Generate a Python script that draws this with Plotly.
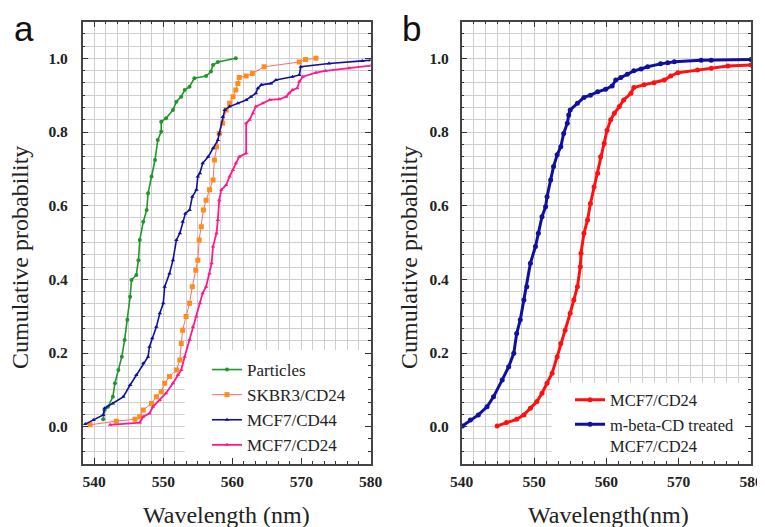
import plotly.graph_objects as go

# ---------------- data ----------------
particles_x = [541.3, 541.5, 542.0, 542.7, 543.0, 543.5, 544.0, 544.4, 544.8, 545.2, 545.4, 546.1, 546.4, 546.6,
               547.1, 547.6, 547.8, 548.3, 548.8, 549.2, 549.7, 549.7, 550.4, 551.4, 551.9, 552.6, 553.1, 553.8,
               554.5, 556.2, 556.9, 557.2, 557.9, 560.5]
particles_y = [0.020, 0.045, 0.054, 0.081, 0.118, 0.154, 0.190, 0.235, 0.290, 0.353, 0.398, 0.412, 0.452, 0.507,
               0.556, 0.588, 0.634, 0.679, 0.724, 0.778, 0.801, 0.828, 0.837, 0.860, 0.882, 0.896, 0.914, 0.923,
               0.946, 0.952, 0.964, 0.982, 0.990, 1.000]

skbr3_x = [539.4, 543.2, 545.9, 546.6, 547.1, 548.3, 549.0, 549.7, 550.2, 550.9, 551.9, 552.4, 552.6, 552.8,
           553.3, 553.8, 554.2, 554.7, 555.0, 555.2, 555.5, 555.8, 556.2, 556.7, 557.2, 557.4, 557.7, 558.1,
           558.6, 559.1, 559.6, 560.1, 560.5, 560.8, 561.0, 562.0, 562.9, 564.6, 569.7, 570.6, 572.1]
skbr3_y = [0.005, 0.015, 0.020, 0.027, 0.045, 0.063, 0.081, 0.095, 0.118, 0.136, 0.154, 0.181, 0.226, 0.262,
           0.299, 0.335, 0.380, 0.425, 0.452, 0.507, 0.543, 0.588, 0.615, 0.643, 0.670, 0.724, 0.760, 0.796,
           0.824, 0.860, 0.878, 0.896, 0.914, 0.932, 0.948, 0.952, 0.959, 0.977, 0.990, 0.997, 1.000]

cd44_x = [538.7, 539.9, 541.3, 541.5, 542.7, 544.2, 545.2, 546.1, 547.1, 547.8, 548.0, 548.4, 549.0, 549.5,
          550.0, 550.2, 550.9, 551.4, 551.9, 552.4, 552.8, 553.2, 553.8, 554.2, 554.8, 555.0, 555.3, 555.7,
          556.5, 557.2, 557.9, 558.1, 558.6, 558.9, 559.6, 560.8, 562.0, 562.7, 563.4, 563.7, 564.2, 565.6,
          566.3, 568.7, 569.7, 569.9, 574.0, 578.8, 580.0]
cd44_y = [0.007, 0.018, 0.032, 0.050, 0.063, 0.081, 0.113, 0.140, 0.172, 0.190, 0.217, 0.240, 0.271, 0.308,
          0.335, 0.380, 0.416, 0.452, 0.507, 0.525, 0.556, 0.579, 0.588, 0.624, 0.643, 0.679, 0.688, 0.715,
          0.733, 0.756, 0.778, 0.796, 0.841, 0.860, 0.869, 0.878, 0.887, 0.896, 0.905, 0.919, 0.928, 0.932,
          0.941, 0.950, 0.955, 0.977, 0.986, 0.993, 0.995]

cd24_x = [542.3, 546.6, 547.1, 548.0, 548.5, 549.5, 550.4, 551.4, 552.1, 552.6, 553.1, 553.8, 554.3, 554.8,
          555.3, 555.7, 556.2, 556.7, 557.0, 557.2, 557.7, 557.9, 558.1, 558.4, 559.1, 559.6, 560.1, 560.5,
          561.0, 562.0, 562.0, 562.5, 563.0, 563.4, 564.4, 565.4, 566.8, 567.8, 568.2, 568.7, 569.4, 569.7,
          570.2, 572.1, 573.5, 576.9, 580.0]
cd24_y = [0.005, 0.011, 0.027, 0.036, 0.054, 0.072, 0.091, 0.118, 0.140, 0.154, 0.190, 0.235, 0.271, 0.299,
          0.335, 0.362, 0.380, 0.416, 0.444, 0.489, 0.525, 0.561, 0.615, 0.643, 0.656, 0.679, 0.697, 0.715,
          0.733, 0.742, 0.824, 0.833, 0.851, 0.869, 0.878, 0.887, 0.889, 0.896, 0.905, 0.914, 0.919, 0.937,
          0.950, 0.961, 0.966, 0.973, 0.980]

b_cd24_x = [544.9, 546.2, 547.6, 548.6, 549.5, 550.4, 551.1, 551.8, 552.5, 553.2, 553.7, 554.3, 555.0, 555.5,
            556.0, 556.4, 556.5, 556.9, 557.4, 557.8, 558.3, 558.8, 559.2, 559.7, 560.1, 560.6, 561.1, 561.8,
            562.4, 563.4, 563.8, 565.2, 566.6, 568.0, 568.9, 569.9, 572.6, 574.5, 576.8, 580.0]
b_cd24_y = [0.002, 0.011, 0.020, 0.032, 0.050, 0.068, 0.091, 0.118, 0.145, 0.190, 0.226, 0.262, 0.308, 0.344,
            0.380, 0.434, 0.471, 0.525, 0.561, 0.606, 0.651, 0.688, 0.733, 0.769, 0.805, 0.833, 0.851, 0.869,
            0.887, 0.905, 0.921, 0.928, 0.934, 0.941, 0.952, 0.961, 0.968, 0.973, 0.979, 0.982]

b_mbcd_x = [540.1, 541.2, 542.3, 543.5, 544.4, 545.6, 546.5, 547.2, 547.6, 548.1, 548.6, 549.0, 549.5, 550.2,
            550.6, 551.1, 551.6, 551.8, 552.3, 552.7, 553.2, 553.7, 554.1, 554.6, 554.8, 555.0, 556.0, 556.9,
            557.8, 558.8, 559.9, 560.8, 561.3, 562.0, 562.9, 563.8, 564.8, 565.7, 567.5, 568.5, 569.4, 573.1,
            574.5, 580.0]
b_mbcd_y = [0.002, 0.018, 0.032, 0.054, 0.081, 0.127, 0.163, 0.199, 0.253, 0.290, 0.344, 0.380, 0.444, 0.489,
            0.525, 0.570, 0.597, 0.624, 0.670, 0.706, 0.738, 0.760, 0.796, 0.824, 0.846, 0.860, 0.878, 0.894,
            0.900, 0.909, 0.916, 0.925, 0.941, 0.948, 0.957, 0.966, 0.971, 0.977, 0.985, 0.988, 0.991, 0.995,
            0.995, 0.997]

x_ticks = [540, 550, 560, 570, 580]
y_ticks = [0.0, 0.2, 0.4, 0.6, 0.8, 1.0]

# ---------------- figure ----------------
W, H = 765, 527
OFF = 8  # the page body margin shifts the figure by 8 px; positions below are page pixels minus this
SERIF = "Liberation Serif"
SANS = "Liberation Sans"
GREEN, ORANGE, SALMON, NAVY, PINK, RED = "#21962a", "#ff8c1a", "#ff6b6b", "#10109c", "#ff1a8c", "#ff1010"


def px(x):
    return (x - OFF) / W


def py(y):
    return 1 - (y - OFF) / H


fig = go.Figure()

fig.add_trace(go.Scatter(x=particles_x, y=particles_y, name="Particles", mode="lines+markers",
                         line=dict(color=GREEN, width=1.6), marker=dict(color=GREEN, size=4, symbol="circle"),
                         xaxis="x", yaxis="y", legend="legend"))
fig.add_trace(go.Scatter(x=skbr3_x, y=skbr3_y, name="SKBR3/CD24", mode="lines+markers",
                         line=dict(color=SALMON, width=1), marker=dict(color=ORANGE, size=5, symbol="square"),
                         xaxis="x", yaxis="y", legend="legend"))
fig.add_trace(go.Scatter(x=cd44_x, y=cd44_y, name="MCF7/CD44", mode="lines+markers",
                         line=dict(color=NAVY, width=1.6), marker=dict(color=NAVY, size=4, symbol="triangle-up"),
                         xaxis="x", yaxis="y", legend="legend"))
fig.add_trace(go.Scatter(x=cd24_x, y=cd24_y, name="MCF7/CD24", mode="lines+markers",
                         line=dict(color=PINK, width=1.8), marker=dict(color=PINK, size=4, symbol="triangle-up"),
                         xaxis="x", yaxis="y", legend="legend"))

fig.add_trace(go.Scatter(x=b_cd24_x, y=b_cd24_y, name="MCF7/CD24", mode="lines+markers",
                         line=dict(color=RED, width=3), marker=dict(color=RED, size=5),
                         xaxis="x2", yaxis="y2", legend="legend2"))
fig.add_trace(go.Scatter(x=b_mbcd_x, y=b_mbcd_y, name="m-beta-CD treated<br>MCF7/CD24", mode="lines+markers",
                         line=dict(color=NAVY, width=3), marker=dict(color=NAVY, size=5),
                         xaxis="x2", yaxis="y2", legend="legend2"))


def xax(domain, rng):
    return dict(domain=domain, range=rng, tickvals=x_ticks, ticks="inside", ticklen=6, tickwidth=1.2,
                tickcolor="#333", showline=True, linecolor="#444", linewidth=1.5, mirror="ticks",
                showgrid=True, gridcolor="#cfcfcf", gridwidth=1, zeroline=False,
                minor=dict(dtick=10 / 6, tick0=540, showgrid=True, gridcolor="#cfcfcf", gridwidth=1,
                           ticks="inside", ticklen=3, tickcolor="#333"),
                tickfont=dict(family=SERIF, size=15.5, color="#222", weight="bold"),
                ticklabelstandoff=3, automargin=False)


def yax(domain, anchor, standoff):
    return dict(domain=domain, range=[-0.1, 1.1], tickvals=y_ticks, tickformat=".1f", anchor=anchor,
                ticks="inside", ticklen=6, tickwidth=1.2, tickcolor="#333", showline=True, linecolor="#444",
                linewidth=1.5, mirror="ticks", showgrid=True, gridcolor="#cfcfcf", gridwidth=1, zeroline=False,
                minor=dict(dtick=0.2 / 6, tick0=0, showgrid=True, gridcolor="#cfcfcf", gridwidth=1,
                           ticks="inside", ticklen=3, tickcolor="#333"),
                tickfont=dict(family=SERIF, size=15.5, color="#222", weight="bold"),
                ticklabelstandoff=standoff, automargin=False)


ydom = [py(463.5), py(21.5)]
fig.update_layout(
    width=W, height=H, autosize=False, margin=dict(l=0, r=0, t=0, b=0, pad=0, autoexpand=False),
    paper_bgcolor="white", plot_bgcolor="white",
    xaxis=dict(**xax([px(82.7), px(370.5)], [538.333, 580]), anchor="y"),
    yaxis=yax(ydom, "x", 10),
    xaxis2=dict(**xax([px(461.7), px(751)], [540, 580]), anchor="y2"),
    yaxis2=yax(ydom, "x2", 8),
    legend=dict(x=px(207), y=py(352), xanchor="left", yanchor="top", bgcolor="rgba(0,0,0,0)",
                font=dict(family=SERIF, size=17, color="#222"), tracegroupgap=0, itemwidth=30),
    legend2=dict(x=px(570), y=py(382.5), xanchor="left", yanchor="top", bgcolor="rgba(0,0,0,0)",
                 font=dict(family=SERIF, size=16.5, color="#222"), tracegroupgap=0, itemwidth=30,
                 valign="top"),
    shapes=[
        dict(type="rect", xref="x", yref="y", x0=553.1, x1=580, y0=-0.1, y1=0.208, layer="between",
             fillcolor="white", line=dict(width=0)),
        dict(type="rect", xref="x2", yref="y2", x0=552.5, x1=580, y0=-0.1, y1=0.119, layer="between",
             fillcolor="white", line=dict(width=0)),
    ],
    annotations=[
        dict(text="a", x=px(12), y=py(29), xref="paper", yref="paper", xanchor="left", yanchor="middle",
             showarrow=False, font=dict(family=SANS, size=35, color="#111")),
        dict(text="b", x=px(400), y=py(29), xref="paper", yref="paper", xanchor="left", yanchor="middle",
             showarrow=False, font=dict(family=SANS, size=35, color="#111")),
        dict(text="Cumulative probability", x=px(20), y=py(258), xref="paper", yref="paper",
             xanchor="center", yanchor="middle",
             textangle=-90, showarrow=False, font=dict(family=SERIF, size=24, color="#222")),
        dict(text="Cumulative probability", x=px(409), y=py(258), xref="paper", yref="paper",
             xanchor="center", yanchor="middle",
             textangle=-90, showarrow=False, font=dict(family=SERIF, size=24, color="#222")),
        dict(text="Wavelength (nm)", x=px(226.7), y=py(514.5), xref="paper", yref="paper",
             xanchor="center", yanchor="middle",
             showarrow=False, font=dict(family=SERIF, size=24, color="#222")),
        dict(text="Wavelength(nm)", x=px(608), y=py(514.5), xref="paper", yref="paper",
             xanchor="center", yanchor="middle",
             showarrow=False, font=dict(family=SERIF, size=24, color="#222")),
    ],
)

fig.write_html("out.html")
